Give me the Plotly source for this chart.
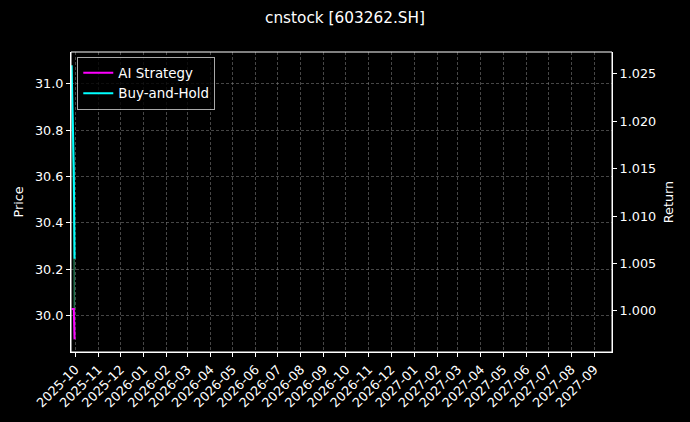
import plotly.graph_objects as go

# ----------------------------------------------------------------------------
# Data
# ----------------------------------------------------------------------------
dates = ["2025-09-26", "2025-09-29", "2025-09-30"]
price = [31.08, 30.45, 29.90]
aiStrategy = [1.0002, 1.0002, 0.9970]
buyHold = [1.0259, 1.0150, 1.0055]

title = "cnstock [603262.SH]"
priceTicks = [30.0, 30.2, 30.4, 30.6, 30.8, 31.0]
returnTicks = [1.000, 1.005, 1.010, 1.015, 1.020, 1.025]

# Style ----------------------------------------------------------------------
font = "DejaVu Sans"
fg = "white"
gridClr = "rgba(128,128,128,0.55)"
tickFs = 12.8

fig = go.Figure()
# price on the left axis (mostly hidden under the return lines)
fig.add_trace(go.Scatter(
    x=dates, y=price, mode="lines", name="Price", showlegend=False,
    line=dict(color="rgba(46,160,110,0.7)", width=1.5), yaxis="y"
))
fig.add_trace(go.Scatter(
    x=dates, y=aiStrategy, mode="lines", name="AI Strategy",
    line=dict(color="#ff00ff", width=2), yaxis="y2"
))
fig.add_trace(go.Scatter(
    x=dates, y=buyHold, mode="lines", name="Buy-and-Hold",
    line=dict(color="#00ffff", width=2), yaxis="y2"
))

axisCommon = dict(
    showline=True, linecolor=fg, linewidth=1, mirror=False,
    ticks="outside", tickcolor=fg, ticklen=4, tickwidth=1,
    tickfont=dict(family=font, size=tickFs, color=fg),
    zeroline=False, automargin=False,
)

fig.update_layout(
    width=690, height=422,
    paper_bgcolor="black", plot_bgcolor="black",
    margin=dict(l=71, r=78, t=52, b=70, autoexpand=False),
    font=dict(family=font, color=fg, size=tickFs),
    title=dict(
        text=title, x=0.5, xref="container", xanchor="center",
        y=1 - 18 / 422, yref="container", yanchor="middle",
        font=dict(family=font, size=15.3, color=fg)
    ),
    xaxis=dict(
        **axisCommon,
        type="date",
        range=["2025-09-25 05:00", "2027-09-25"],
        tick0="2025-10-01", dtick="M1", tickformat="%Y-%m",
        tickangle=-45,
        showgrid=True, gridcolor=gridClr, gridwidth=0.5, griddash="3px,2px",
    ),
    yaxis=dict(
        **axisCommon,
        range=[29.843, 31.137],
        tickvals=priceTicks, ticktext=[f"{v:.1f}" for v in priceTicks],
        showgrid=True, gridcolor=gridClr, gridwidth=0.5, griddash="3px,2px",
        title=dict(text="Price", font=dict(family=font, size=tickFs, color=fg),
                   standoff=8),
    ),
    yaxis2=dict(
        **axisCommon,
        overlaying="y", side="right", anchor="x",
        range=[0.99567, 1.02731],
        tickvals=returnTicks, ticktext=[f"{v:.3f}" for v in returnTicks],
        showgrid=False,
        title=dict(text="Return", font=dict(family=font, size=tickFs, color=fg),
                   standoff=8),
    ),
    legend=dict(
        x=0.0116, y=0.985, xanchor="left", yanchor="top",
        bgcolor="rgba(0,0,0,0.8)", bordercolor="rgba(210,210,210,0.8)",
        borderwidth=1, font=dict(family=font, size=13.4, color=fg),
        itemwidth=30,
    ),
    showlegend=True,
)

# frame edges (matplotlib draws all four spines)
fig.update_layout(shapes=[dict(
    type="rect", xref="paper", yref="paper", x0=0, x1=1, y0=0, y1=1,
    line=dict(color=fg, width=1), layer="above"
)])

# page has a default body margin; drop it so the figure sits at 0,0
fig.write_html(
    "out.html",
    config={"displayModeBar": False},
    post_script="document.body.style.margin='0';"
                "document.body.style.background='black';",
)
